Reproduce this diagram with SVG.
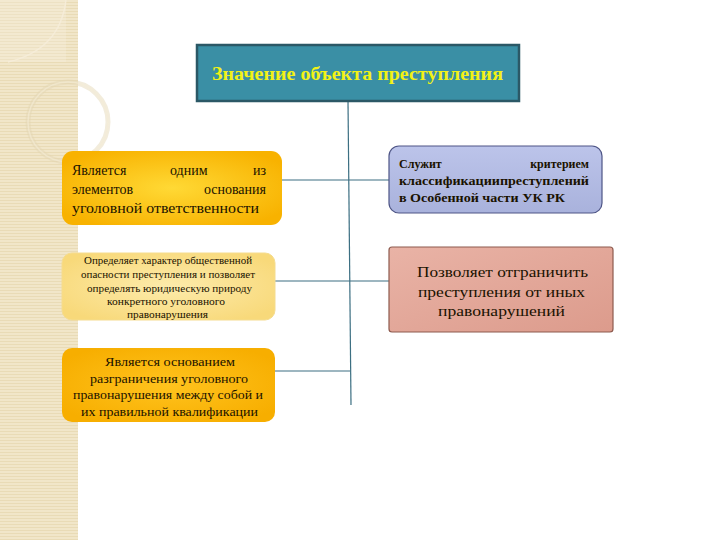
<svg xmlns="http://www.w3.org/2000/svg" width="720" height="540" viewBox="0 0 720 540">
<defs>
<pattern id="stripes" width="6" height="3" patternUnits="userSpaceOnUse">
<rect width="6" height="3" fill="#f1e6c9"/>
<rect width="6" height="1" y="2" fill="#e9dbb6"/>
</pattern>
<radialGradient id="gOrange" cx="50%" cy="50%" r="60%">
<stop offset="0" stop-color="#ffd935"/>
<stop offset="1" stop-color="#f8b200"/>
</radialGradient>
<radialGradient id="gLight" cx="50%" cy="50%" r="60%">
<stop offset="0" stop-color="#fdebab"/>
<stop offset="1" stop-color="#f8d97a"/>
</radialGradient>
<radialGradient id="gOrange2" cx="50%" cy="50%" r="60%">
<stop offset="0" stop-color="#ffc31e"/>
<stop offset="1" stop-color="#f7ae00"/>
</radialGradient>
<linearGradient id="gBlue" x1="0" y1="0" x2="0" y2="1">
<stop offset="0" stop-color="#bcc4ea"/>
<stop offset="1" stop-color="#a9b2dc"/>
</linearGradient>
<linearGradient id="gPink" x1="0" y1="0" x2="1" y2="1">
<stop offset="0" stop-color="#e9b3a6"/>
<stop offset="1" stop-color="#dc9b8c"/>
</linearGradient>
</defs>
<style>
.t{font-family:"Liberation Serif","DejaVu Serif",serif;fill:#1a1200}
.b{font-weight:bold}
.c{text-anchor:middle}
.e{text-anchor:end}
.ln{stroke:#3c6f82;stroke-width:1.2;fill:none}
</style>
<rect width="720" height="540" fill="#ffffff"/>
<g id="decor">
<rect x="0" y="0" width="78" height="540" fill="url(#stripes)"/>
<path d="M0 0 H66 V62 H0 Z" fill="#f7efdd" opacity="0.35"/>
<path d="M66 0 Q60 50 8 62" stroke="#f6eedb" stroke-width="1.5" fill="none" opacity="0.8"/>
<circle cx="68" cy="122" r="40" stroke="#e3d5b2" stroke-width="5" fill="none" opacity="0.45"/>
<circle cx="68" cy="122" r="40" stroke="#f5ecd6" stroke-width="1.5" fill="none" opacity="0.6"/>
</g>
<g id="connectors">
<path class="ln" d="M348 101 L351 405"/>
<path class="ln" d="M281 180 H389"/>
<path class="ln" d="M275 281 H389"/>
<path class="ln" d="M275 371 H350"/>
</g>
<g id="title">
<rect x="197" y="45" width="322" height="56" fill="#3a8fa5" stroke="#2b5866" stroke-width="2.5"/>
<text class="t b" x="212" y="80" font-size="18" textLength="291" lengthAdjust="spacingAndGlyphs" style="fill:#f2f216">Значение объекта преступления</text>
</g>
<g id="box1">
<rect x="62" y="151" width="220" height="74" rx="11" fill="url(#gOrange)"/>
<text class="t" font-size="14" y="175"><tspan x="72">Является</tspan><tspan x="170">одним</tspan><tspan x="266" class="e">из</tspan></text>
<text class="t" font-size="14" y="194"><tspan x="72">элементов</tspan><tspan x="266" class="e">основания</tspan></text>
<text class="t" font-size="14" y="213" x="72" textLength="187" lengthAdjust="spacingAndGlyphs">уголовной ответственности</text>
</g>
<g id="box2">
<rect x="62" y="253" width="213" height="67" rx="10" fill="url(#gLight)" stroke="#f5dc8f" stroke-width="1"/>
<g class="t" font-size="10">
<text x="84" y="264" textLength="168" lengthAdjust="spacingAndGlyphs">Определяет характер общественной</text>
<text x="81" y="278" textLength="174" lengthAdjust="spacingAndGlyphs">опасности преступления  и позволяет</text>
<text x="87" y="292" textLength="165" lengthAdjust="spacingAndGlyphs">определять юридическую природу</text>
<text x="107" y="305" textLength="118" lengthAdjust="spacingAndGlyphs">конкретного уголовного</text>
<text x="127" y="318" textLength="81" lengthAdjust="spacingAndGlyphs">правонарушения</text>
</g>
</g>
<g id="box3">
<rect x="62" y="348" width="213" height="74" rx="10" fill="url(#gOrange2)"/>
<g class="t" font-size="13.5">
<text x="105" y="366" textLength="130" lengthAdjust="spacingAndGlyphs">Является основанием</text>
<text x="90" y="383" textLength="158" lengthAdjust="spacingAndGlyphs">разграничения уголовного</text>
<text x="73" y="399" textLength="190" lengthAdjust="spacingAndGlyphs">правонарушения между собой и</text>
<text x="81" y="416" textLength="177" lengthAdjust="spacingAndGlyphs">их правильной квалификации</text>
</g>
</g>
<g id="box4">
<rect x="389" y="146" width="213" height="67" rx="10" fill="url(#gBlue)" stroke="#4e5586" stroke-width="1.2"/>
<text class="t b" font-size="12" y="168"><tspan x="399">Служит</tspan><tspan x="589" class="e">критерием</tspan></text>
<text class="t b" font-size="12" y="185" x="399" textLength="190" lengthAdjust="spacingAndGlyphs">классификациипреступлений</text>
<text class="t b" font-size="12" y="202" x="399" textLength="166" lengthAdjust="spacingAndGlyphs">в Особенной части УК РК</text>
</g>
<g id="box5">
<rect x="389" y="247" width="224" height="85" rx="3" fill="url(#gPink)" stroke="#8e5b4f" stroke-width="1.2"/>
<g class="t" font-size="14.5">
<text x="417" y="277" textLength="171" lengthAdjust="spacingAndGlyphs">Позволяет отграничить</text>
<text x="418" y="297" textLength="167" lengthAdjust="spacingAndGlyphs">преступления  от иных</text>
<text x="438" y="316" textLength="127" lengthAdjust="spacingAndGlyphs">правонарушений</text>
</g>
</g>
</svg>
